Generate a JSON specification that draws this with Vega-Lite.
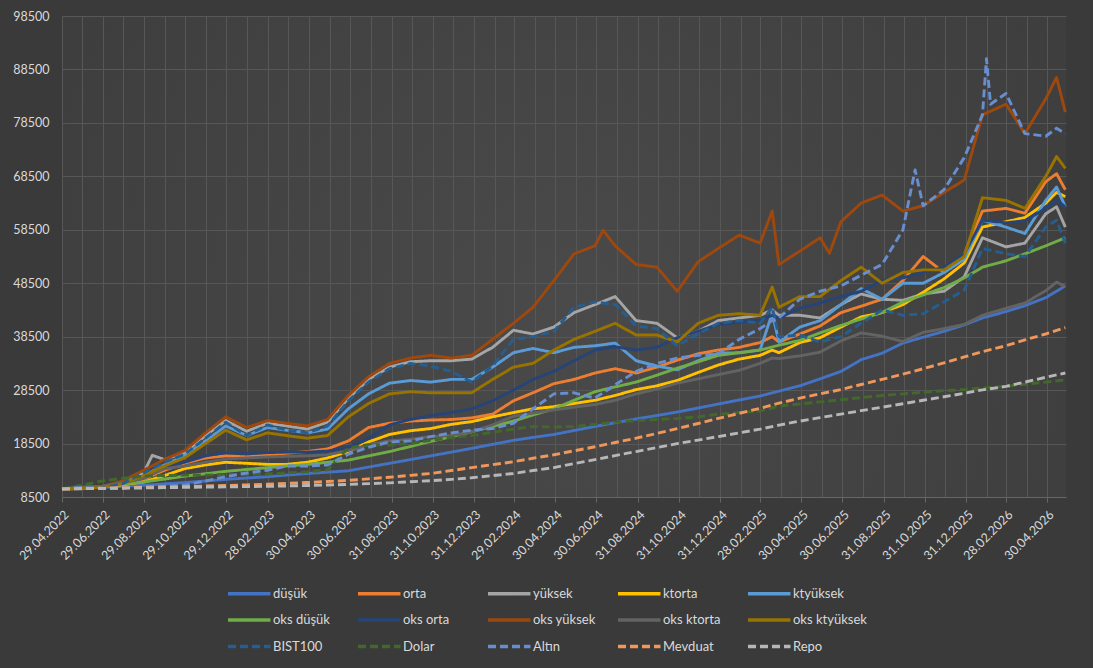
{
"$schema": "https://vega.github.io/schema/vega-lite/v6.json",
"width": 1004, "height": 481,
"autosize": {"type": "none"},
"padding": {"left": 62, "top": 16, "right": 27, "bottom": 171},
"background": "#3a3a3a",
"config": {
  "view": {"stroke": null, "fill": {"gradient": "radial", "x1": 0.5, "y1": 0.55, "x2": 0.5, "y2": 0.55, "r1": 0, "r2": 0.75, "stops": [{"offset": 0, "color": "#4a4a4a"}, {"offset": 1, "color": "#3a3a3a"}]}},
  "font": "Lato",
  "legend": {"symbolType": "M-2.5,0H2.5", "symbolSize": 289, "symbolStrokeWidth": 3.5, "labelColor": "#d9d9d9", "labelFont": "Lato", "labelFontSize": 13, "labelOffset": 13.25, "columnPadding": 3, "rowPadding": 8.5, "gridAlign": "all", "padding": 0, "labelLimit": 200}
},
"data": {"format": {"parse": {"d": "utc:'%Y-%m-%d'"}}, "values": [
{"s":"düşük","d":"2022-04-29","v":10000},{"s":"düşük","d":"2022-05-28","v":10150},{"s":"düşük","d":"2022-06-28","v":10300},{"s":"düşük","d":"2022-07-28","v":10500},{"s":"düşük","d":"2022-08-28","v":10700},{"s":"düşük","d":"2022-09-28","v":10950},{"s":"düşük","d":"2022-10-28","v":11200},{"s":"düşük","d":"2022-11-28","v":11500},{"s":"düşük","d":"2022-12-28","v":11800},{"s":"düşük","d":"2023-01-28","v":12050},{"s":"düşük","d":"2023-02-28","v":12300},{"s":"düşük","d":"2023-03-28","v":12600},{"s":"düşük","d":"2023-04-28","v":12900},{"s":"düşük","d":"2023-05-28","v":13150},{"s":"düşük","d":"2023-06-28","v":13400},{"s":"düşük","d":"2023-07-28","v":14100},{"s":"düşük","d":"2023-08-28","v":14800},{"s":"düşük","d":"2023-09-28","v":15500},{"s":"düşük","d":"2023-10-28","v":16200},{"s":"düşük","d":"2023-11-28","v":16900},{"s":"düşük","d":"2023-12-28","v":17600},{"s":"düşük","d":"2024-01-28","v":18350},{"s":"düşük","d":"2024-02-28","v":19100},{"s":"düşük","d":"2024-03-28","v":19650},{"s":"düşük","d":"2024-04-28","v":20200},{"s":"düşük","d":"2024-05-28","v":20950},{"s":"düşük","d":"2024-06-28","v":21700},{"s":"düşük","d":"2024-07-28","v":22400},{"s":"düşük","d":"2024-08-28","v":23100},{"s":"düşük","d":"2024-09-28","v":23750},{"s":"düşük","d":"2024-10-28","v":24400},{"s":"düşük","d":"2024-11-28","v":25150},{"s":"düşük","d":"2024-12-28","v":25900},{"s":"düşük","d":"2025-01-28","v":26650},{"s":"düşük","d":"2025-02-28","v":27400},{"s":"düşük","d":"2025-03-28","v":28300},{"s":"düşük","d":"2025-04-28","v":29300},{"s":"düşük","d":"2025-05-28","v":30600},{"s":"düşük","d":"2025-06-28","v":32000},{"s":"düşük","d":"2025-07-28","v":34200},{"s":"düşük","d":"2025-08-28","v":35400},{"s":"düşük","d":"2025-09-28","v":37300},{"s":"düşük","d":"2025-10-28","v":38400},{"s":"düşük","d":"2025-11-28","v":39500},{"s":"düşük","d":"2025-12-28","v":40700},{"s":"düşük","d":"2026-01-24","v":42000},{"s":"düşük","d":"2026-02-28","v":43200},{"s":"düşük","d":"2026-03-28","v":44300},{"s":"düşük","d":"2026-04-28","v":45800},{"s":"düşük","d":"2026-05-27","v":48000},
{"s":"orta","d":"2022-04-29","v":10000},{"s":"orta","d":"2022-05-28","v":10200},{"s":"orta","d":"2022-06-28","v":10500},{"s":"orta","d":"2022-07-28","v":11000},{"s":"orta","d":"2022-08-28","v":11800},{"s":"orta","d":"2022-09-28","v":13500},{"s":"orta","d":"2022-10-28","v":14800},{"s":"orta","d":"2022-11-28","v":15800},{"s":"orta","d":"2022-12-28","v":16200},{"s":"orta","d":"2023-01-28","v":16000},{"s":"orta","d":"2023-02-28","v":16300},{"s":"orta","d":"2023-03-28","v":16700},{"s":"orta","d":"2023-04-28","v":17000},{"s":"orta","d":"2023-05-28","v":17500},{"s":"orta","d":"2023-06-28","v":19000},{"s":"orta","d":"2023-07-28","v":21500},{"s":"orta","d":"2023-08-28","v":22300},{"s":"orta","d":"2023-09-28","v":22700},{"s":"orta","d":"2023-10-28","v":22900},{"s":"orta","d":"2023-11-28","v":23000},{"s":"orta","d":"2023-12-28","v":23300},{"s":"orta","d":"2024-01-28","v":24000},{"s":"orta","d":"2024-02-28","v":26500},{"s":"orta","d":"2024-03-28","v":28000},{"s":"orta","d":"2024-04-28","v":29700},{"s":"orta","d":"2024-05-28","v":30500},{"s":"orta","d":"2024-06-28","v":31700},{"s":"orta","d":"2024-07-28","v":32500},{"s":"orta","d":"2024-08-28","v":31700},{"s":"orta","d":"2024-09-28","v":32800},{"s":"orta","d":"2024-10-28","v":34100},{"s":"orta","d":"2024-11-28","v":35300},{"s":"orta","d":"2024-12-28","v":36000},{"s":"orta","d":"2025-01-28","v":36500},{"s":"orta","d":"2025-02-28","v":37400},{"s":"orta","d":"2025-03-18","v":38500},{"s":"orta","d":"2025-03-28","v":37500},{"s":"orta","d":"2025-04-28","v":39000},{"s":"orta","d":"2025-05-28","v":40500},{"s":"orta","d":"2025-06-28","v":43000},{"s":"orta","d":"2025-07-28","v":44200},{"s":"orta","d":"2025-08-28","v":45500},{"s":"orta","d":"2025-09-28","v":49000},{"s":"orta","d":"2025-10-28","v":53500},{"s":"orta","d":"2025-11-28","v":50500},{"s":"orta","d":"2025-12-28","v":54000},{"s":"orta","d":"2026-01-24","v":62000},{"s":"orta","d":"2026-02-28","v":62500},{"s":"orta","d":"2026-03-28","v":61600},{"s":"orta","d":"2026-04-28","v":67500},{"s":"orta","d":"2026-05-14","v":69000},{"s":"orta","d":"2026-05-27","v":66000},
{"s":"yüksek","d":"2022-04-29","v":10000},{"s":"yüksek","d":"2022-05-28","v":10300},{"s":"yüksek","d":"2022-06-28","v":10400},{"s":"yüksek","d":"2022-07-28","v":11300},{"s":"yüksek","d":"2022-08-28","v":13000},{"s":"yüksek","d":"2022-09-10","v":16300},{"s":"yüksek","d":"2022-09-28","v":15500},{"s":"yüksek","d":"2022-10-28","v":16800},{"s":"yüksek","d":"2022-11-28","v":20000},{"s":"yüksek","d":"2022-12-28","v":22800},{"s":"yüksek","d":"2023-01-28","v":20800},{"s":"yüksek","d":"2023-02-28","v":22300},{"s":"yüksek","d":"2023-03-28","v":21800},{"s":"yüksek","d":"2023-04-28","v":21200},{"s":"yüksek","d":"2023-05-28","v":22500},{"s":"yüksek","d":"2023-06-28","v":27000},{"s":"yüksek","d":"2023-07-28","v":30500},{"s":"yüksek","d":"2023-08-28","v":32800},{"s":"yüksek","d":"2023-09-28","v":33800},{"s":"yüksek","d":"2023-10-28","v":34000},{"s":"yüksek","d":"2023-11-28","v":34000},{"s":"yüksek","d":"2023-12-28","v":34300},{"s":"yüksek","d":"2024-01-28","v":36500},{"s":"yüksek","d":"2024-02-28","v":39700},{"s":"yüksek","d":"2024-03-28","v":39000},{"s":"yüksek","d":"2024-04-28","v":40300},{"s":"yüksek","d":"2024-05-28","v":43000},{"s":"yüksek","d":"2024-06-28","v":44500},{"s":"yüksek","d":"2024-07-28","v":46000},{"s":"yüksek","d":"2024-08-28","v":41500},{"s":"yüksek","d":"2024-09-28","v":41000},{"s":"yüksek","d":"2024-10-28","v":38300},{"s":"yüksek","d":"2024-11-28","v":39500},{"s":"yüksek","d":"2024-12-28","v":41500},{"s":"yüksek","d":"2025-01-28","v":42000},{"s":"yüksek","d":"2025-02-28","v":42500},{"s":"yüksek","d":"2025-03-18","v":43500},{"s":"yüksek","d":"2025-03-28","v":42500},{"s":"yüksek","d":"2025-04-28","v":42500},{"s":"yüksek","d":"2025-05-28","v":42000},{"s":"yüksek","d":"2025-06-28","v":44500},{"s":"yüksek","d":"2025-07-28","v":46500},{"s":"yüksek","d":"2025-08-28","v":45500},{"s":"yüksek","d":"2025-09-28","v":45300},{"s":"yüksek","d":"2025-10-28","v":46500},{"s":"yüksek","d":"2025-11-28","v":47000},{"s":"yüksek","d":"2025-12-28","v":49700},{"s":"yüksek","d":"2026-01-24","v":57000},{"s":"yüksek","d":"2026-02-28","v":55300},{"s":"yüksek","d":"2026-03-28","v":56000},{"s":"yüksek","d":"2026-04-28","v":61500},{"s":"yüksek","d":"2026-05-14","v":62800},{"s":"yüksek","d":"2026-05-27","v":59000},
{"s":"ktorta","d":"2022-04-29","v":10000},{"s":"ktorta","d":"2022-05-28","v":10100},{"s":"ktorta","d":"2022-06-28","v":10400},{"s":"ktorta","d":"2022-07-28","v":10800},{"s":"ktorta","d":"2022-08-28","v":11300},{"s":"ktorta","d":"2022-09-28","v":12500},{"s":"ktorta","d":"2022-10-28","v":13800},{"s":"ktorta","d":"2022-11-28","v":14500},{"s":"ktorta","d":"2022-12-28","v":15000},{"s":"ktorta","d":"2023-01-28","v":14800},{"s":"ktorta","d":"2023-02-28","v":14600},{"s":"ktorta","d":"2023-03-28","v":14600},{"s":"ktorta","d":"2023-04-28","v":15000},{"s":"ktorta","d":"2023-05-28","v":15800},{"s":"ktorta","d":"2023-06-28","v":17000},{"s":"ktorta","d":"2023-07-28","v":18800},{"s":"ktorta","d":"2023-08-28","v":20200},{"s":"ktorta","d":"2023-09-28","v":20900},{"s":"ktorta","d":"2023-10-28","v":21300},{"s":"ktorta","d":"2023-11-28","v":22100},{"s":"ktorta","d":"2023-12-28","v":22600},{"s":"ktorta","d":"2024-01-28","v":23500},{"s":"ktorta","d":"2024-02-28","v":24300},{"s":"ktorta","d":"2024-03-28","v":25000},{"s":"ktorta","d":"2024-04-28","v":25400},{"s":"ktorta","d":"2024-05-28","v":26000},{"s":"ktorta","d":"2024-06-28","v":26600},{"s":"ktorta","d":"2024-07-28","v":27500},{"s":"ktorta","d":"2024-08-28","v":28600},{"s":"ktorta","d":"2024-09-28","v":29300},{"s":"ktorta","d":"2024-10-28","v":30300},{"s":"ktorta","d":"2024-11-28","v":31800},{"s":"ktorta","d":"2024-12-28","v":33200},{"s":"ktorta","d":"2025-01-28","v":34300},{"s":"ktorta","d":"2025-02-28","v":35000},{"s":"ktorta","d":"2025-03-18","v":36000},{"s":"ktorta","d":"2025-03-28","v":35500},{"s":"ktorta","d":"2025-04-28","v":37400},{"s":"ktorta","d":"2025-05-28","v":38300},{"s":"ktorta","d":"2025-06-28","v":40300},{"s":"ktorta","d":"2025-07-28","v":42200},{"s":"ktorta","d":"2025-08-28","v":43000},{"s":"ktorta","d":"2025-09-28","v":44500},{"s":"ktorta","d":"2025-10-28","v":46800},{"s":"ktorta","d":"2025-11-28","v":49300},{"s":"ktorta","d":"2025-12-28","v":52300},{"s":"ktorta","d":"2026-01-24","v":59000},{"s":"ktorta","d":"2026-02-28","v":60000},{"s":"ktorta","d":"2026-03-28","v":60800},{"s":"ktorta","d":"2026-04-28","v":63500},{"s":"ktorta","d":"2026-05-14","v":65500},{"s":"ktorta","d":"2026-05-27","v":64700},
{"s":"ktyüksek","d":"2022-04-29","v":10000},{"s":"ktyüksek","d":"2022-05-28","v":10150},{"s":"ktyüksek","d":"2022-06-28","v":10300},{"s":"ktyüksek","d":"2022-07-28","v":11000},{"s":"ktyüksek","d":"2022-08-28","v":12500},{"s":"ktyüksek","d":"2022-09-28","v":14500},{"s":"ktyüksek","d":"2022-10-28","v":16200},{"s":"ktyüksek","d":"2022-11-28","v":19000},{"s":"ktyüksek","d":"2022-12-28","v":21800},{"s":"ktyüksek","d":"2023-01-28","v":20000},{"s":"ktyüksek","d":"2023-02-28","v":21500},{"s":"ktyüksek","d":"2023-03-28","v":21000},{"s":"ktyüksek","d":"2023-04-28","v":20500},{"s":"ktyüksek","d":"2023-05-28","v":21200},{"s":"ktyüksek","d":"2023-06-28","v":25000},{"s":"ktyüksek","d":"2023-07-28","v":27800},{"s":"ktyüksek","d":"2023-08-28","v":29800},{"s":"ktyüksek","d":"2023-09-28","v":30300},{"s":"ktyüksek","d":"2023-10-28","v":30000},{"s":"ktyüksek","d":"2023-11-28","v":30500},{"s":"ktyüksek","d":"2023-12-28","v":30500},{"s":"ktyüksek","d":"2024-01-28","v":32800},{"s":"ktyüksek","d":"2024-02-28","v":35500},{"s":"ktyüksek","d":"2024-03-28","v":36300},{"s":"ktyüksek","d":"2024-04-28","v":35500},{"s":"ktyüksek","d":"2024-05-28","v":36500},{"s":"ktyüksek","d":"2024-06-28","v":36800},{"s":"ktyüksek","d":"2024-07-28","v":37300},{"s":"ktyüksek","d":"2024-08-28","v":34000},{"s":"ktyüksek","d":"2024-09-28","v":33000},{"s":"ktyüksek","d":"2024-10-28","v":32300},{"s":"ktyüksek","d":"2024-11-28","v":34000},{"s":"ktyüksek","d":"2024-12-28","v":35400},{"s":"ktyüksek","d":"2025-01-28","v":35500},{"s":"ktyüksek","d":"2025-02-28","v":36000},{"s":"ktyüksek","d":"2025-03-18","v":42900},{"s":"ktyüksek","d":"2025-03-28","v":37500},{"s":"ktyüksek","d":"2025-04-28","v":40300},{"s":"ktyüksek","d":"2025-05-28","v":41500},{"s":"ktyüksek","d":"2025-06-28","v":44500},{"s":"ktyüksek","d":"2025-07-28","v":47500},{"s":"ktyüksek","d":"2025-08-28","v":45500},{"s":"ktyüksek","d":"2025-09-28","v":48500},{"s":"ktyüksek","d":"2025-10-28","v":48500},{"s":"ktyüksek","d":"2025-11-28","v":50500},{"s":"ktyüksek","d":"2025-12-28","v":53000},{"s":"ktyüksek","d":"2026-01-24","v":60300},{"s":"ktyüksek","d":"2026-02-28","v":59000},{"s":"ktyüksek","d":"2026-03-28","v":57800},{"s":"ktyüksek","d":"2026-04-28","v":64000},{"s":"ktyüksek","d":"2026-05-14","v":66500},{"s":"ktyüksek","d":"2026-05-27","v":62800},
{"s":"oks düşük","d":"2022-04-29","v":10000},{"s":"oks düşük","d":"2022-05-28","v":10250},{"s":"oks düşük","d":"2022-06-28","v":10500},{"s":"oks düşük","d":"2022-07-28","v":10900},{"s":"oks düşük","d":"2022-08-28","v":11300},{"s":"oks düşük","d":"2022-09-28","v":11850},{"s":"oks düşük","d":"2022-10-28","v":12400},{"s":"oks düşük","d":"2022-11-28","v":12850},{"s":"oks düşük","d":"2022-12-28","v":13300},{"s":"oks düşük","d":"2023-01-28","v":13650},{"s":"oks düşük","d":"2023-02-28","v":14000},{"s":"oks düşük","d":"2023-03-28","v":14300},{"s":"oks düşük","d":"2023-04-28","v":14600},{"s":"oks düşük","d":"2023-05-28","v":15000},{"s":"oks düşük","d":"2023-06-28","v":15400},{"s":"oks düşük","d":"2023-07-28","v":16200},{"s":"oks düşük","d":"2023-08-28","v":17000},{"s":"oks düşük","d":"2023-09-28","v":17950},{"s":"oks düşük","d":"2023-10-28","v":18900},{"s":"oks düşük","d":"2023-11-28","v":19800},{"s":"oks düşük","d":"2023-12-28","v":20700},{"s":"oks düşük","d":"2024-01-28","v":21700},{"s":"oks düşük","d":"2024-02-28","v":22700},{"s":"oks düşük","d":"2024-03-28","v":23850},{"s":"oks düşük","d":"2024-04-28","v":25000},{"s":"oks düşük","d":"2024-05-28","v":26600},{"s":"oks düşük","d":"2024-06-28","v":28200},{"s":"oks düşük","d":"2024-07-28","v":29100},{"s":"oks düşük","d":"2024-08-28","v":30000},{"s":"oks düşük","d":"2024-09-28","v":31300},{"s":"oks düşük","d":"2024-10-28","v":32600},{"s":"oks düşük","d":"2024-11-28","v":33800},{"s":"oks düşük","d":"2024-12-28","v":35000},{"s":"oks düşük","d":"2025-01-28","v":35500},{"s":"oks düşük","d":"2025-02-28","v":36000},{"s":"oks düşük","d":"2025-03-28","v":36900},{"s":"oks düşük","d":"2025-04-28","v":37800},{"s":"oks düşük","d":"2025-05-28","v":39200},{"s":"oks düşük","d":"2025-06-28","v":40600},{"s":"oks düşük","d":"2025-07-28","v":41800},{"s":"oks düşük","d":"2025-08-28","v":43000},{"s":"oks düşük","d":"2025-09-28","v":45000},{"s":"oks düşük","d":"2025-10-28","v":46300},{"s":"oks düşük","d":"2025-11-28","v":47700},{"s":"oks düşük","d":"2025-12-28","v":49500},{"s":"oks düşük","d":"2026-01-24","v":51500},{"s":"oks düşük","d":"2026-02-28","v":52700},{"s":"oks düşük","d":"2026-03-28","v":54000},{"s":"oks düşük","d":"2026-04-28","v":55500},{"s":"oks düşük","d":"2026-05-27","v":57000},
{"s":"oks orta","d":"2022-04-29","v":10000},{"s":"oks orta","d":"2022-05-28","v":10200},{"s":"oks orta","d":"2022-06-28","v":10500},{"s":"oks orta","d":"2022-07-28","v":11200},{"s":"oks orta","d":"2022-08-28","v":12000},{"s":"oks orta","d":"2022-09-28","v":14000},{"s":"oks orta","d":"2022-10-28","v":15000},{"s":"oks orta","d":"2022-11-28","v":16200},{"s":"oks orta","d":"2022-12-28","v":16800},{"s":"oks orta","d":"2023-01-28","v":16700},{"s":"oks orta","d":"2023-02-28","v":16800},{"s":"oks orta","d":"2023-03-28","v":16900},{"s":"oks orta","d":"2023-04-28","v":16900},{"s":"oks orta","d":"2023-05-28","v":17100},{"s":"oks orta","d":"2023-06-28","v":17800},{"s":"oks orta","d":"2023-07-28","v":19500},{"s":"oks orta","d":"2023-08-28","v":22000},{"s":"oks orta","d":"2023-09-28","v":23000},{"s":"oks orta","d":"2023-10-28","v":23700},{"s":"oks orta","d":"2023-11-28","v":24300},{"s":"oks orta","d":"2023-12-28","v":25000},{"s":"oks orta","d":"2024-01-28","v":26500},{"s":"oks orta","d":"2024-02-28","v":28500},{"s":"oks orta","d":"2024-03-28","v":30500},{"s":"oks orta","d":"2024-04-28","v":32000},{"s":"oks orta","d":"2024-05-28","v":34000},{"s":"oks orta","d":"2024-06-28","v":36000},{"s":"oks orta","d":"2024-07-28","v":36600},{"s":"oks orta","d":"2024-08-28","v":36000},{"s":"oks orta","d":"2024-09-28","v":36500},{"s":"oks orta","d":"2024-10-28","v":38300},{"s":"oks orta","d":"2024-11-28","v":39500},{"s":"oks orta","d":"2024-12-28","v":40800},{"s":"oks orta","d":"2025-01-28","v":41200},{"s":"oks orta","d":"2025-02-28","v":41600},{"s":"oks orta","d":"2025-03-18","v":42500},{"s":"oks orta","d":"2025-03-28","v":42000},{"s":"oks orta","d":"2025-04-28","v":43800},{"s":"oks orta","d":"2025-05-28","v":44800},{"s":"oks orta","d":"2025-06-28","v":46000},{"s":"oks orta","d":"2025-07-28","v":47000},{"s":"oks orta","d":"2025-08-28","v":49000},{"s":"oks orta","d":"2025-09-28","v":49500},{"s":"oks orta","d":"2025-10-28","v":50500},{"s":"oks orta","d":"2025-11-28","v":51500},{"s":"oks orta","d":"2025-12-28","v":54000},{"s":"oks orta","d":"2026-01-24","v":60300},{"s":"oks orta","d":"2026-02-28","v":59800},{"s":"oks orta","d":"2026-03-28","v":60200},{"s":"oks orta","d":"2026-04-28","v":62500},{"s":"oks orta","d":"2026-05-14","v":64000},{"s":"oks orta","d":"2026-05-27","v":62800},
{"s":"oks yüksek","d":"2022-04-29","v":10000},{"s":"oks yüksek","d":"2022-05-28","v":10300},{"s":"oks yüksek","d":"2022-06-28","v":10500},{"s":"oks yüksek","d":"2022-07-28","v":11500},{"s":"oks yüksek","d":"2022-08-28","v":13500},{"s":"oks yüksek","d":"2022-09-28","v":15500},{"s":"oks yüksek","d":"2022-10-28","v":17200},{"s":"oks yüksek","d":"2022-11-28","v":20500},{"s":"oks yüksek","d":"2022-12-28","v":23500},{"s":"oks yüksek","d":"2023-01-28","v":21500},{"s":"oks yüksek","d":"2023-02-28","v":22800},{"s":"oks yüksek","d":"2023-03-28","v":22300},{"s":"oks yüksek","d":"2023-04-28","v":21800},{"s":"oks yüksek","d":"2023-05-28","v":23000},{"s":"oks yüksek","d":"2023-06-28","v":27500},{"s":"oks yüksek","d":"2023-07-28","v":31000},{"s":"oks yüksek","d":"2023-08-28","v":33500},{"s":"oks yüksek","d":"2023-09-28","v":34500},{"s":"oks yüksek","d":"2023-10-28","v":35000},{"s":"oks yüksek","d":"2023-11-28","v":34500},{"s":"oks yüksek","d":"2023-12-28","v":35000},{"s":"oks yüksek","d":"2024-01-28","v":38000},{"s":"oks yüksek","d":"2024-02-28","v":41000},{"s":"oks yüksek","d":"2024-03-28","v":44000},{"s":"oks yüksek","d":"2024-04-28","v":49000},{"s":"oks yüksek","d":"2024-05-28","v":54000},{"s":"oks yüksek","d":"2024-06-28","v":55500},{"s":"oks yüksek","d":"2024-07-10","v":58400},{"s":"oks yüksek","d":"2024-07-28","v":55500},{"s":"oks yüksek","d":"2024-08-28","v":52000},{"s":"oks yüksek","d":"2024-09-28","v":51500},{"s":"oks yüksek","d":"2024-10-28","v":47000},{"s":"oks yüksek","d":"2024-11-28","v":52500},{"s":"oks yüksek","d":"2024-12-28","v":55000},{"s":"oks yüksek","d":"2025-01-28","v":57500},{"s":"oks yüksek","d":"2025-02-28","v":56000},{"s":"oks yüksek","d":"2025-03-18","v":62000},{"s":"oks yüksek","d":"2025-03-28","v":52000},{"s":"oks yüksek","d":"2025-04-28","v":54500},{"s":"oks yüksek","d":"2025-05-28","v":57000},{"s":"oks yüksek","d":"2025-06-11","v":54100},{"s":"oks yüksek","d":"2025-06-28","v":60000},{"s":"oks yüksek","d":"2025-07-28","v":63500},{"s":"oks yüksek","d":"2025-08-28","v":65000},{"s":"oks yüksek","d":"2025-09-28","v":62000},{"s":"oks yüksek","d":"2025-10-28","v":63000},{"s":"oks yüksek","d":"2025-11-28","v":65500},{"s":"oks yüksek","d":"2025-12-28","v":67800},{"s":"oks yüksek","d":"2026-01-24","v":80000},{"s":"oks yüksek","d":"2026-02-28","v":82000},{"s":"oks yüksek","d":"2026-03-28","v":76500},{"s":"oks yüksek","d":"2026-04-28","v":83000},{"s":"oks yüksek","d":"2026-05-14","v":87000},{"s":"oks yüksek","d":"2026-05-27","v":80500},
{"s":"oks ktorta","d":"2022-04-29","v":10000},{"s":"oks ktorta","d":"2022-05-28","v":10200},{"s":"oks ktorta","d":"2022-06-28","v":10500},{"s":"oks ktorta","d":"2022-07-28","v":11200},{"s":"oks ktorta","d":"2022-08-28","v":12000},{"s":"oks ktorta","d":"2022-09-28","v":13800},{"s":"oks ktorta","d":"2022-10-28","v":14300},{"s":"oks ktorta","d":"2022-11-28","v":15000},{"s":"oks ktorta","d":"2022-12-28","v":15600},{"s":"oks ktorta","d":"2023-01-28","v":15800},{"s":"oks ktorta","d":"2023-02-28","v":16000},{"s":"oks ktorta","d":"2023-03-28","v":16100},{"s":"oks ktorta","d":"2023-04-28","v":16200},{"s":"oks ktorta","d":"2023-05-28","v":16400},{"s":"oks ktorta","d":"2023-06-28","v":17200},{"s":"oks ktorta","d":"2023-07-28","v":18300},{"s":"oks ktorta","d":"2023-08-28","v":19000},{"s":"oks ktorta","d":"2023-09-28","v":19300},{"s":"oks ktorta","d":"2023-10-28","v":19800},{"s":"oks ktorta","d":"2023-11-28","v":20000},{"s":"oks ktorta","d":"2023-12-28","v":20700},{"s":"oks ktorta","d":"2024-01-28","v":22000},{"s":"oks ktorta","d":"2024-02-28","v":23600},{"s":"oks ktorta","d":"2024-03-28","v":24200},{"s":"oks ktorta","d":"2024-04-28","v":24800},{"s":"oks ktorta","d":"2024-05-28","v":25300},{"s":"oks ktorta","d":"2024-06-28","v":25800},{"s":"oks ktorta","d":"2024-07-28","v":26600},{"s":"oks ktorta","d":"2024-08-28","v":27800},{"s":"oks ktorta","d":"2024-09-28","v":28700},{"s":"oks ktorta","d":"2024-10-28","v":29800},{"s":"oks ktorta","d":"2024-11-28","v":30600},{"s":"oks ktorta","d":"2024-12-28","v":31400},{"s":"oks ktorta","d":"2025-01-28","v":32200},{"s":"oks ktorta","d":"2025-02-28","v":33500},{"s":"oks ktorta","d":"2025-03-18","v":34500},{"s":"oks ktorta","d":"2025-03-28","v":34400},{"s":"oks ktorta","d":"2025-04-28","v":34900},{"s":"oks ktorta","d":"2025-05-28","v":35600},{"s":"oks ktorta","d":"2025-06-28","v":37700},{"s":"oks ktorta","d":"2025-07-28","v":39200},{"s":"oks ktorta","d":"2025-08-28","v":38600},{"s":"oks ktorta","d":"2025-09-28","v":37600},{"s":"oks ktorta","d":"2025-10-28","v":39300},{"s":"oks ktorta","d":"2025-11-28","v":40000},{"s":"oks ktorta","d":"2025-12-28","v":40800},{"s":"oks ktorta","d":"2026-01-24","v":42500},{"s":"oks ktorta","d":"2026-02-28","v":43800},{"s":"oks ktorta","d":"2026-03-28","v":44800},{"s":"oks ktorta","d":"2026-04-28","v":47100},{"s":"oks ktorta","d":"2026-05-14","v":48700},{"s":"oks ktorta","d":"2026-05-27","v":47900},
{"s":"oks ktyüksek","d":"2022-04-29","v":10000},{"s":"oks ktyüksek","d":"2022-05-28","v":10150},{"s":"oks ktyüksek","d":"2022-06-28","v":10300},{"s":"oks ktyüksek","d":"2022-07-28","v":11000},{"s":"oks ktyüksek","d":"2022-08-28","v":12500},{"s":"oks ktyüksek","d":"2022-09-28","v":14300},{"s":"oks ktyüksek","d":"2022-10-28","v":15800},{"s":"oks ktyüksek","d":"2022-11-28","v":18500},{"s":"oks ktyüksek","d":"2022-12-28","v":21000},{"s":"oks ktyüksek","d":"2023-01-28","v":19200},{"s":"oks ktyüksek","d":"2023-02-28","v":20500},{"s":"oks ktyüksek","d":"2023-03-28","v":20000},{"s":"oks ktyüksek","d":"2023-04-28","v":19500},{"s":"oks ktyüksek","d":"2023-05-28","v":20000},{"s":"oks ktyüksek","d":"2023-06-28","v":23500},{"s":"oks ktyüksek","d":"2023-07-28","v":26000},{"s":"oks ktyüksek","d":"2023-08-28","v":27800},{"s":"oks ktyüksek","d":"2023-09-28","v":28200},{"s":"oks ktyüksek","d":"2023-10-28","v":28000},{"s":"oks ktyüksek","d":"2023-11-28","v":28000},{"s":"oks ktyüksek","d":"2023-12-28","v":28000},{"s":"oks ktyüksek","d":"2024-01-28","v":30500},{"s":"oks ktyüksek","d":"2024-02-28","v":32800},{"s":"oks ktyüksek","d":"2024-03-28","v":33500},{"s":"oks ktyüksek","d":"2024-04-28","v":36000},{"s":"oks ktyüksek","d":"2024-05-28","v":38000},{"s":"oks ktyüksek","d":"2024-06-28","v":39500},{"s":"oks ktyüksek","d":"2024-07-28","v":41000},{"s":"oks ktyüksek","d":"2024-08-28","v":38800},{"s":"oks ktyüksek","d":"2024-09-28","v":38800},{"s":"oks ktyüksek","d":"2024-10-28","v":37500},{"s":"oks ktyüksek","d":"2024-11-28","v":41000},{"s":"oks ktyüksek","d":"2024-12-28","v":42500},{"s":"oks ktyüksek","d":"2025-01-28","v":42800},{"s":"oks ktyüksek","d":"2025-02-28","v":42500},{"s":"oks ktyüksek","d":"2025-03-18","v":47800},{"s":"oks ktyüksek","d":"2025-03-28","v":44000},{"s":"oks ktyüksek","d":"2025-04-28","v":46000},{"s":"oks ktyüksek","d":"2025-05-28","v":46000},{"s":"oks ktyüksek","d":"2025-06-28","v":49000},{"s":"oks ktyüksek","d":"2025-07-28","v":51500},{"s":"oks ktyüksek","d":"2025-08-28","v":48500},{"s":"oks ktyüksek","d":"2025-09-28","v":50500},{"s":"oks ktyüksek","d":"2025-10-28","v":51000},{"s":"oks ktyüksek","d":"2025-11-28","v":51000},{"s":"oks ktyüksek","d":"2025-12-28","v":53500},{"s":"oks ktyüksek","d":"2026-01-24","v":64500},{"s":"oks ktyüksek","d":"2026-02-28","v":64000},{"s":"oks ktyüksek","d":"2026-03-28","v":62500},{"s":"oks ktyüksek","d":"2026-04-28","v":68500},{"s":"oks ktyüksek","d":"2026-05-14","v":72200},{"s":"oks ktyüksek","d":"2026-05-27","v":70000},
{"s":"BIST100","d":"2022-04-29","v":10000},{"s":"BIST100","d":"2022-05-28","v":10200},{"s":"BIST100","d":"2022-06-28","v":10200},{"s":"BIST100","d":"2022-07-28","v":11000},{"s":"BIST100","d":"2022-08-28","v":13000},{"s":"BIST100","d":"2022-09-28","v":15000},{"s":"BIST100","d":"2022-10-28","v":16500},{"s":"BIST100","d":"2022-11-28","v":19500},{"s":"BIST100","d":"2022-12-28","v":22500},{"s":"BIST100","d":"2023-01-28","v":20000},{"s":"BIST100","d":"2023-02-28","v":22000},{"s":"BIST100","d":"2023-03-28","v":21000},{"s":"BIST100","d":"2023-04-28","v":20500},{"s":"BIST100","d":"2023-05-28","v":21800},{"s":"BIST100","d":"2023-06-28","v":26500},{"s":"BIST100","d":"2023-07-28","v":30000},{"s":"BIST100","d":"2023-08-28","v":32500},{"s":"BIST100","d":"2023-09-28","v":33500},{"s":"BIST100","d":"2023-10-28","v":33000},{"s":"BIST100","d":"2023-11-28","v":32000},{"s":"BIST100","d":"2023-12-28","v":30000},{"s":"BIST100","d":"2024-01-28","v":33000},{"s":"BIST100","d":"2024-02-28","v":38000},{"s":"BIST100","d":"2024-03-28","v":38500},{"s":"BIST100","d":"2024-04-28","v":39500},{"s":"BIST100","d":"2024-05-28","v":44000},{"s":"BIST100","d":"2024-06-28","v":45000},{"s":"BIST100","d":"2024-07-28","v":44500},{"s":"BIST100","d":"2024-08-28","v":40500},{"s":"BIST100","d":"2024-09-28","v":40000},{"s":"BIST100","d":"2024-10-28","v":36800},{"s":"BIST100","d":"2024-11-28","v":39000},{"s":"BIST100","d":"2024-12-28","v":41000},{"s":"BIST100","d":"2025-01-28","v":41500},{"s":"BIST100","d":"2025-02-28","v":41000},{"s":"BIST100","d":"2025-03-18","v":44000},{"s":"BIST100","d":"2025-03-28","v":38500},{"s":"BIST100","d":"2025-04-28","v":38800},{"s":"BIST100","d":"2025-05-28","v":37500},{"s":"BIST100","d":"2025-06-28","v":38500},{"s":"BIST100","d":"2025-07-28","v":41000},{"s":"BIST100","d":"2025-08-28","v":43500},{"s":"BIST100","d":"2025-09-28","v":42500},{"s":"BIST100","d":"2025-10-28","v":42800},{"s":"BIST100","d":"2025-11-28","v":45000},{"s":"BIST100","d":"2025-12-28","v":47200},{"s":"BIST100","d":"2026-01-24","v":55000},{"s":"BIST100","d":"2026-02-28","v":54000},{"s":"BIST100","d":"2026-03-28","v":53500},{"s":"BIST100","d":"2026-04-28","v":59000},{"s":"BIST100","d":"2026-05-14","v":60300},{"s":"BIST100","d":"2026-05-27","v":56000},
{"s":"Dolar","d":"2022-04-29","v":10000},{"s":"Dolar","d":"2022-05-28","v":10700},{"s":"Dolar","d":"2022-06-28","v":11500},{"s":"Dolar","d":"2022-07-28","v":12000},{"s":"Dolar","d":"2022-08-28","v":12400},{"s":"Dolar","d":"2022-09-28","v":12500},{"s":"Dolar","d":"2022-10-28","v":12600},{"s":"Dolar","d":"2022-11-28","v":12600},{"s":"Dolar","d":"2022-12-28","v":12700},{"s":"Dolar","d":"2023-01-28","v":12700},{"s":"Dolar","d":"2023-02-28","v":12800},{"s":"Dolar","d":"2023-03-28","v":13000},{"s":"Dolar","d":"2023-04-28","v":13200},{"s":"Dolar","d":"2023-05-28","v":13600},{"s":"Dolar","d":"2023-06-28","v":17700},{"s":"Dolar","d":"2023-07-28","v":18300},{"s":"Dolar","d":"2023-08-28","v":18200},{"s":"Dolar","d":"2023-09-28","v":18500},{"s":"Dolar","d":"2023-10-28","v":19100},{"s":"Dolar","d":"2023-11-28","v":19600},{"s":"Dolar","d":"2023-12-28","v":20000},{"s":"Dolar","d":"2024-01-28","v":20600},{"s":"Dolar","d":"2024-02-28","v":21200},{"s":"Dolar","d":"2024-03-28","v":21700},{"s":"Dolar","d":"2024-04-28","v":21600},{"s":"Dolar","d":"2024-05-28","v":21700},{"s":"Dolar","d":"2024-06-28","v":22100},{"s":"Dolar","d":"2024-07-28","v":22500},{"s":"Dolar","d":"2024-08-28","v":22800},{"s":"Dolar","d":"2024-09-28","v":23000},{"s":"Dolar","d":"2024-10-28","v":23200},{"s":"Dolar","d":"2024-11-28","v":23500},{"s":"Dolar","d":"2024-12-28","v":24000},{"s":"Dolar","d":"2025-01-28","v":24300},{"s":"Dolar","d":"2025-02-28","v":24600},{"s":"Dolar","d":"2025-03-28","v":25500},{"s":"Dolar","d":"2025-04-28","v":25900},{"s":"Dolar","d":"2025-05-28","v":26300},{"s":"Dolar","d":"2025-06-28","v":26700},{"s":"Dolar","d":"2025-07-28","v":27100},{"s":"Dolar","d":"2025-08-28","v":27500},{"s":"Dolar","d":"2025-09-28","v":27800},{"s":"Dolar","d":"2025-10-28","v":28100},{"s":"Dolar","d":"2025-11-28","v":28400},{"s":"Dolar","d":"2025-12-28","v":28600},{"s":"Dolar","d":"2026-01-24","v":28900},{"s":"Dolar","d":"2026-02-28","v":29200},{"s":"Dolar","d":"2026-03-28","v":29600},{"s":"Dolar","d":"2026-04-28","v":30000},{"s":"Dolar","d":"2026-05-27","v":30400},
{"s":"Altın","d":"2022-04-29","v":10000},{"s":"Altın","d":"2022-05-28","v":10300},{"s":"Altın","d":"2022-06-28","v":10100},{"s":"Altın","d":"2022-07-28","v":10200},{"s":"Altın","d":"2022-08-28","v":10400},{"s":"Altın","d":"2022-09-28","v":10500},{"s":"Altın","d":"2022-10-28","v":10700},{"s":"Altın","d":"2022-11-28","v":11500},{"s":"Altın","d":"2022-12-28","v":12300},{"s":"Altın","d":"2023-01-28","v":13000},{"s":"Altın","d":"2023-02-28","v":13500},{"s":"Altın","d":"2023-03-28","v":14300},{"s":"Altın","d":"2023-04-28","v":14300},{"s":"Altın","d":"2023-05-28","v":14500},{"s":"Altın","d":"2023-06-28","v":16500},{"s":"Altın","d":"2023-07-28","v":17800},{"s":"Altın","d":"2023-08-28","v":18800},{"s":"Altın","d":"2023-09-28","v":19000},{"s":"Altın","d":"2023-10-28","v":19800},{"s":"Altın","d":"2023-11-28","v":20500},{"s":"Altın","d":"2023-12-28","v":21000},{"s":"Altın","d":"2024-01-28","v":21300},{"s":"Altın","d":"2024-02-28","v":22300},{"s":"Altın","d":"2024-03-28","v":25000},{"s":"Altın","d":"2024-04-28","v":27800},{"s":"Altın","d":"2024-05-28","v":28000},{"s":"Altın","d":"2024-06-28","v":27000},{"s":"Altın","d":"2024-07-28","v":29500},{"s":"Altın","d":"2024-08-28","v":32000},{"s":"Altın","d":"2024-09-28","v":33500},{"s":"Altın","d":"2024-10-28","v":34500},{"s":"Altın","d":"2024-11-28","v":35000},{"s":"Altın","d":"2024-12-28","v":35300},{"s":"Altın","d":"2025-01-28","v":38000},{"s":"Altın","d":"2025-02-28","v":40000},{"s":"Altın","d":"2025-03-18","v":41500},{"s":"Altın","d":"2025-03-28","v":42000},{"s":"Altın","d":"2025-04-28","v":45500},{"s":"Altın","d":"2025-05-28","v":47000},{"s":"Altın","d":"2025-06-28","v":48000},{"s":"Altın","d":"2025-07-28","v":50000},{"s":"Altın","d":"2025-08-28","v":52000},{"s":"Altın","d":"2025-09-28","v":58500},{"s":"Altın","d":"2025-10-16","v":69700},{"s":"Altın","d":"2025-10-28","v":63000},{"s":"Altın","d":"2025-11-28","v":66000},{"s":"Altın","d":"2025-12-28","v":72000},{"s":"Altın","d":"2026-01-24","v":80000},{"s":"Altın","d":"2026-01-30","v":90500},{"s":"Altın","d":"2026-02-05","v":82000},{"s":"Altın","d":"2026-02-28","v":84000},{"s":"Altın","d":"2026-03-28","v":76500},{"s":"Altın","d":"2026-04-28","v":76000},{"s":"Altın","d":"2026-05-14","v":77500},{"s":"Altın","d":"2026-05-27","v":76500},
{"s":"Mevduat","d":"2022-04-29","v":10000},{"s":"Mevduat","d":"2022-05-28","v":10080},{"s":"Mevduat","d":"2022-06-28","v":10150},{"s":"Mevduat","d":"2022-07-28","v":10230},{"s":"Mevduat","d":"2022-08-28","v":10300},{"s":"Mevduat","d":"2022-09-28","v":10380},{"s":"Mevduat","d":"2022-10-28","v":10450},{"s":"Mevduat","d":"2022-11-28","v":10550},{"s":"Mevduat","d":"2022-12-28","v":10650},{"s":"Mevduat","d":"2023-01-28","v":10770},{"s":"Mevduat","d":"2023-02-28","v":10900},{"s":"Mevduat","d":"2023-03-28","v":11050},{"s":"Mevduat","d":"2023-04-28","v":11200},{"s":"Mevduat","d":"2023-05-28","v":11400},{"s":"Mevduat","d":"2023-06-28","v":11600},{"s":"Mevduat","d":"2023-07-28","v":11900},{"s":"Mevduat","d":"2023-08-28","v":12200},{"s":"Mevduat","d":"2023-09-28","v":12550},{"s":"Mevduat","d":"2023-10-28","v":12900},{"s":"Mevduat","d":"2023-11-28","v":13450},{"s":"Mevduat","d":"2023-12-28","v":14000},{"s":"Mevduat","d":"2024-01-28","v":14550},{"s":"Mevduat","d":"2024-02-28","v":15100},{"s":"Mevduat","d":"2024-03-28","v":15750},{"s":"Mevduat","d":"2024-04-28","v":16400},{"s":"Mevduat","d":"2024-05-28","v":17150},{"s":"Mevduat","d":"2024-06-28","v":17900},{"s":"Mevduat","d":"2024-07-28","v":18700},{"s":"Mevduat","d":"2024-08-28","v":19500},{"s":"Mevduat","d":"2024-09-28","v":20400},{"s":"Mevduat","d":"2024-10-28","v":21300},{"s":"Mevduat","d":"2024-11-28","v":22250},{"s":"Mevduat","d":"2024-12-28","v":23200},{"s":"Mevduat","d":"2025-01-28","v":24150},{"s":"Mevduat","d":"2025-02-28","v":25100},{"s":"Mevduat","d":"2025-03-28","v":26050},{"s":"Mevduat","d":"2025-04-28","v":27000},{"s":"Mevduat","d":"2025-05-28","v":27800},{"s":"Mevduat","d":"2025-06-28","v":28600},{"s":"Mevduat","d":"2025-07-28","v":29550},{"s":"Mevduat","d":"2025-08-28","v":30500},{"s":"Mevduat","d":"2025-09-28","v":31500},{"s":"Mevduat","d":"2025-10-28","v":32500},{"s":"Mevduat","d":"2025-11-28","v":33600},{"s":"Mevduat","d":"2025-12-28","v":34700},{"s":"Mevduat","d":"2026-01-24","v":35700},{"s":"Mevduat","d":"2026-02-28","v":36800},{"s":"Mevduat","d":"2026-03-28","v":37900},{"s":"Mevduat","d":"2026-04-28","v":39000},{"s":"Mevduat","d":"2026-05-27","v":40200},
{"s":"Repo","d":"2022-04-29","v":10000},{"s":"Repo","d":"2022-05-28","v":10050},{"s":"Repo","d":"2022-06-28","v":10100},{"s":"Repo","d":"2022-07-28","v":10150},{"s":"Repo","d":"2022-08-28","v":10200},{"s":"Repo","d":"2022-09-28","v":10250},{"s":"Repo","d":"2022-10-28","v":10300},{"s":"Repo","d":"2022-11-28","v":10350},{"s":"Repo","d":"2022-12-28","v":10400},{"s":"Repo","d":"2023-01-28","v":10450},{"s":"Repo","d":"2023-02-28","v":10500},{"s":"Repo","d":"2023-03-28","v":10570},{"s":"Repo","d":"2023-04-28","v":10650},{"s":"Repo","d":"2023-05-28","v":10750},{"s":"Repo","d":"2023-06-28","v":10850},{"s":"Repo","d":"2023-07-28","v":11000},{"s":"Repo","d":"2023-08-28","v":11150},{"s":"Repo","d":"2023-09-28","v":11350},{"s":"Repo","d":"2023-10-28","v":11550},{"s":"Repo","d":"2023-11-28","v":11800},{"s":"Repo","d":"2023-12-28","v":12100},{"s":"Repo","d":"2024-01-28","v":12500},{"s":"Repo","d":"2024-02-28","v":12900},{"s":"Repo","d":"2024-03-28","v":13450},{"s":"Repo","d":"2024-04-28","v":14000},{"s":"Repo","d":"2024-05-28","v":14750},{"s":"Repo","d":"2024-06-28","v":15500},{"s":"Repo","d":"2024-07-28","v":16250},{"s":"Repo","d":"2024-08-28","v":17000},{"s":"Repo","d":"2024-09-28","v":17750},{"s":"Repo","d":"2024-10-28","v":18500},{"s":"Repo","d":"2024-11-28","v":19150},{"s":"Repo","d":"2024-12-28","v":19800},{"s":"Repo","d":"2025-01-28","v":20500},{"s":"Repo","d":"2025-02-28","v":21200},{"s":"Repo","d":"2025-03-28","v":21950},{"s":"Repo","d":"2025-04-28","v":22700},{"s":"Repo","d":"2025-05-28","v":23350},{"s":"Repo","d":"2025-06-28","v":24000},{"s":"Repo","d":"2025-07-28","v":24650},{"s":"Repo","d":"2025-08-28","v":25300},{"s":"Repo","d":"2025-09-28","v":25950},{"s":"Repo","d":"2025-10-28","v":26600},{"s":"Repo","d":"2025-11-28","v":27250},{"s":"Repo","d":"2025-12-28","v":27900},{"s":"Repo","d":"2026-01-24","v":28550},{"s":"Repo","d":"2026-02-28","v":29200},{"s":"Repo","d":"2026-03-28","v":30000},{"s":"Repo","d":"2026-04-28","v":30900},{"s":"Repo","d":"2026-05-27","v":31700}
]},
"mark": {"type": "line", "strokeWidth": 2.9, "strokeJoin": "round"},
"encoding": {
  "x": {"field": "d", "type": "temporal",
    "scale": {"type": "utc", "domain": [{"year": 2022, "month": 4, "date": 29, "utc": true}, {"year": 2026, "month": 5, "date": 28, "utc": true}]},
    "axis": {"title": null,
      "values": [{"year":2022,"month":4,"date":29,"utc":true},{"year":2022,"month":5,"date":29,"utc":true},{"year":2022,"month":6,"date":29,"utc":true},{"year":2022,"month":7,"date":29,"utc":true},{"year":2022,"month":8,"date":29,"utc":true},{"year":2022,"month":9,"date":29,"utc":true},{"year":2022,"month":10,"date":29,"utc":true},{"year":2022,"month":11,"date":29,"utc":true},{"year":2022,"month":12,"date":29,"utc":true},{"year":2023,"month":1,"date":29,"utc":true},{"year":2023,"month":2,"date":28,"utc":true},{"year":2023,"month":3,"date":31,"utc":true},{"year":2023,"month":4,"date":30,"utc":true},{"year":2023,"month":5,"date":31,"utc":true},{"year":2023,"month":6,"date":30,"utc":true},{"year":2023,"month":7,"date":31,"utc":true},{"year":2023,"month":8,"date":31,"utc":true},{"year":2023,"month":9,"date":30,"utc":true},{"year":2023,"month":10,"date":31,"utc":true},{"year":2023,"month":11,"date":30,"utc":true},{"year":2023,"month":12,"date":31,"utc":true},{"year":2024,"month":1,"date":31,"utc":true},{"year":2024,"month":2,"date":29,"utc":true},{"year":2024,"month":3,"date":31,"utc":true},{"year":2024,"month":4,"date":30,"utc":true},{"year":2024,"month":5,"date":31,"utc":true},{"year":2024,"month":6,"date":30,"utc":true},{"year":2024,"month":7,"date":31,"utc":true},{"year":2024,"month":8,"date":31,"utc":true},{"year":2024,"month":9,"date":30,"utc":true},{"year":2024,"month":10,"date":31,"utc":true},{"year":2024,"month":11,"date":30,"utc":true},{"year":2024,"month":12,"date":31,"utc":true},{"year":2025,"month":1,"date":31,"utc":true},{"year":2025,"month":2,"date":28,"utc":true},{"year":2025,"month":3,"date":31,"utc":true},{"year":2025,"month":4,"date":30,"utc":true},{"year":2025,"month":5,"date":31,"utc":true},{"year":2025,"month":6,"date":30,"utc":true},{"year":2025,"month":7,"date":31,"utc":true},{"year":2025,"month":8,"date":31,"utc":true},{"year":2025,"month":9,"date":30,"utc":true},{"year":2025,"month":10,"date":31,"utc":true},{"year":2025,"month":11,"date":30,"utc":true},{"year":2025,"month":12,"date":31,"utc":true},{"year":2026,"month":1,"date":31,"utc":true},{"year":2026,"month":2,"date":28,"utc":true},{"year":2026,"month":3,"date":31,"utc":true},{"year":2026,"month":4,"date":30,"utc":true}],
      "labelExpr": "utcmonth(datum.value) % 2 == 1 ? utcFormat(datum.value, '%d.%m.%Y') : ''",
      "labelAngle": -45, "labelFontSize": 12.5, "labelColor": "#d9d9d9", "labelFont": "Lato", "labelOverlap": false, "labelPadding": 6,
      "grid": true, "gridColor": "#575757", "gridWidth": 1,
      "domainColor": "#666666", "tickColor": "#666666", "tickSize": 5,
      "tickOpacity": {"condition": {"test": "utcmonth(datum.value) % 2 == 1", "value": 1}, "value": 0}}},
  "y": {"field": "v", "type": "quantitative",
    "scale": {"domain": [8500, 98500], "nice": false, "zero": false},
    "axis": {"title": null, "values": [8500, 18500, 28500, 38500, 48500, 58500, 68500, 78500, 88500, 98500], "format": "d",
      "labelColor": "#d9d9d9", "labelFont": "Lato", "labelFontSize": 12.5, "labelPadding": 13,
      "grid": true, "gridColor": "#575757", "domain": false, "ticks": false}},
  "color": {"field": "s", "type": "nominal",
    "scale": {"domain": ["düşük","orta","yüksek","ktorta","ktyüksek","oks düşük","oks orta","oks yüksek","oks ktorta","oks ktyüksek","BIST100","Dolar","Altın","Mevduat","Repo"],
      "range": ["#4472C4","#ED7D31","#A5A5A5","#FFC000","#5B9BD5","#70AD47","#264478","#9E480E","#636363","#997300","#255E91","#43682B","#698ED0","#F1975A","#B7B7B7"]},
    "legend": {"title": null, "orient": "none", "legendX": 176.75, "legendY": 567, "direction": "horizontal", "columns": 5}},
  "strokeDash": {"field": "s", "type": "nominal",
    "scale": {"domain": ["düşük","orta","yüksek","ktorta","ktyüksek","oks düşük","oks orta","oks yüksek","oks ktorta","oks ktyüksek","BIST100","Dolar","Altın","Mevduat","Repo"],
      "range": [[1,0],[1,0],[1,0],[1,0],[1,0],[1,0],[1,0],[1,0],[1,0],[1,0],[8,4],[8,4],[8,4],[8,4],[8,4]]},
    "legend": {"title": null, "orient": "none", "legendX": 176.75, "legendY": 567, "direction": "horizontal", "columns": 5}}
}
}
